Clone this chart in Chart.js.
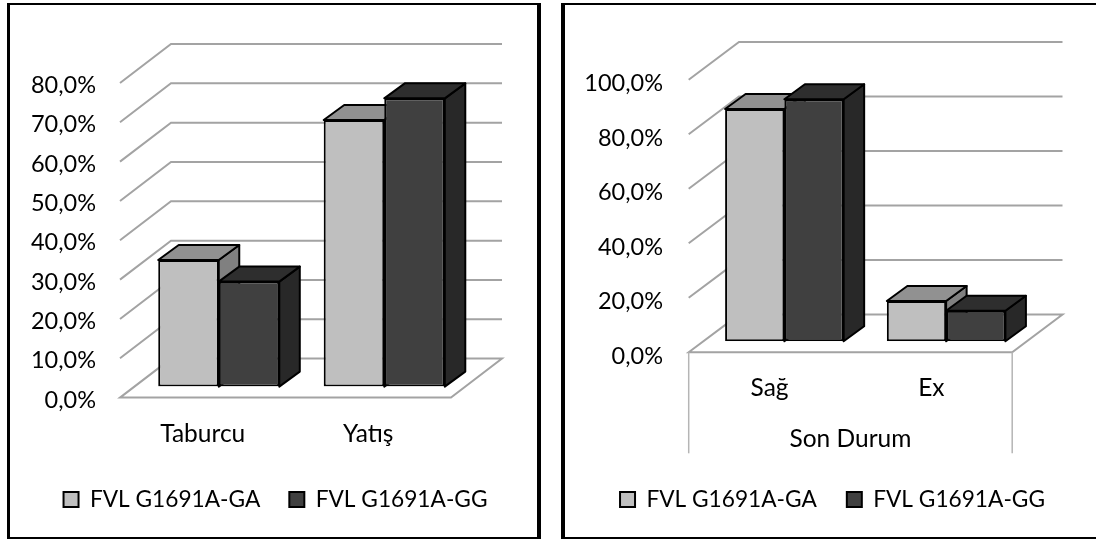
<!DOCTYPE html>
<html>
<head>
<meta charset="utf-8">
<style>
  html, body { margin: 0; padding: 0; background: #fff; overflow: hidden; }
  body { width: 1096px; height: 539px; position: relative; }
  .frame { position: absolute; box-sizing: border-box; border: solid #000; }
  #frameLeft { left: 7px; top: 3px; width: 534px; height: 537px; border-width: 2px 4px 3px 3px; }
  #frameRight { left: 561px; top: 3px; width: 535px; height: 537px; border-width: 2px 0 3px 4px; }
  canvas { position: absolute; }
  #chartLeft { left: 10px; top: 5px; }
  #chartRight { left: 565px; top: 5px; }
</style>
</head>
<body>
<div class="frame" id="frameLeft"></div>
<div class="frame" id="frameRight"></div>
<canvas id="chartLeft" width="531" height="535"></canvas>
<canvas id="chartRight" width="535" height="536"></canvas>
<script src="https://cdn.jsdelivr.net/npm/chart.js@4"></script>
<script>
const seriesNames = ['FVL G1691A-GA', 'FVL G1691A-GG'];

const leftCategories = ['Taburcu', 'Yatış'];
const leftGA = [32.2, 67.8];
const leftGG = [26.7, 73.3];

const rightCategories = ['Sağ', 'Ex'];
const rightGA = [85.2, 14.8];
const rightGG = [88.8, 11.2];
const rightAxisTitle = 'Son Durum';

const FONT_FAMILY = 'Lato, Carlito, sans-serif';
const TICK_FONT = { family: FONT_FAMILY, size: 23.5 };
const CATEGORY_FONT = { family: FONT_FAMILY, size: 24.5 };
const LEGEND_FONT = { family: FONT_FAMILY, size: 22.7 };
const GRID_COLOR = '#a3a3a3';
const BAR_DEPTH = { x: 20.5, y: 15 };

// front, top and side shade of each series
const shades = [
    { front: '#bfbfbf', top: '#919191', side: '#808080' },
    { front: '#404040', top: '#2e2e2e', side: '#282828' }
];

function formatPercent(value) {
    return value.toFixed(1).replace('.', ',') + '%';
}

// Back wall, side wall and floor lines of the fake 3D box
function drawWalls(chart, box) {
    const { ctx, chartArea } = chart;
    const yScale = chart.scales.y;
    const left = chartArea.left;
    const right = chartArea.right;

    ctx.save();
    ctx.strokeStyle = GRID_COLOR;
    ctx.lineWidth = 2;
    yScale.ticks.forEach(tick => {
        const y = yScale.getPixelForValue(tick.value);
        ctx.beginPath();
        ctx.moveTo(left - box.frontX, y + box.frontY);
        ctx.lineTo(left + box.backX, y - box.backY);
        ctx.lineTo(right + box.backX, y - box.backY);
        if (tick.value === 0) {
            ctx.lineTo(right - box.frontX, y + box.frontY);
            ctx.closePath();
        }
        ctx.stroke();
    });
    ctx.restore();
}

// Side and top faces, GA first so that GG lies over it
function drawBarFaces(chart) {
    const { ctx } = chart;
    const d = BAR_DEPTH;

    ctx.save();
    ctx.strokeStyle = '#000';
    ctx.lineWidth = 2;
    ctx.lineJoin = 'round';
    chart.data.labels.forEach((label, i) => {
        seriesNames.forEach((name, s) => {
            const bar = chart.getDatasetMeta(s).data[i];
            const x0 = bar.x - bar.width / 2;
            const x1 = bar.x + bar.width / 2;
            const top = bar.y;
            const base = bar.base;

            ctx.fillStyle = shades[s].side;
            ctx.beginPath();
            ctx.moveTo(x1, top);
            ctx.lineTo(x1 + d.x, top - d.y);
            ctx.lineTo(x1 + d.x, base - d.y);
            ctx.lineTo(x1, base);
            ctx.closePath();
            ctx.fill();
            ctx.stroke();

            ctx.fillStyle = shades[s].top;
            ctx.beginPath();
            ctx.moveTo(x0, top);
            ctx.lineTo(x0 + d.x, top - d.y);
            ctx.lineTo(x1 + d.x, top - d.y);
            ctx.lineTo(x1, top);
            ctx.closePath();
            ctx.fill();
            ctx.stroke();
        });
    });
    ctx.restore();
}

const box3d = {
    id: 'box3d',
    beforeDatasetsDraw(chart, args, opts) {
        drawWalls(chart, opts);
        drawBarFaces(chart);
    },
    afterDraw(chart, args, opts) {
        if (!opts.axisTitle) return;
        const { ctx, chartArea } = chart;
        const y0 = chart.scales.y.getPixelForValue(0) + opts.frontY;
        const xa = chartArea.left - opts.frontX;
        const xb = chartArea.right - opts.frontX;

        // Front panel of the two level category axis
        ctx.save();
        ctx.strokeStyle = '#b5b5b5';
        ctx.lineWidth = 1.5;
        [xa, xb].forEach(x => {
            ctx.beginPath();
            ctx.moveTo(x, y0);
            ctx.lineTo(x, y0 + opts.panelHeight);
            ctx.stroke();
        });
        ctx.fillStyle = '#000';
        ctx.font = CATEGORY_FONT.size + 'px ' + CATEGORY_FONT.family;
        ctx.textAlign = 'center';
        ctx.textBaseline = 'middle';
        ctx.fillText(opts.axisTitle, (xa + xb) / 2, y0 + opts.titleOffset);
        ctx.restore();
    }
};

function makeChart(id, categories, ga, gg, cfg) {
    const ctx = document.getElementById(id).getContext('2d');
    return new Chart(ctx, {
        type: 'bar',
        plugins: [box3d],
        data: {
            labels: categories,
            datasets: [
                { label: seriesNames[0], data: ga, backgroundColor: shades[0].front },
                { label: seriesNames[1], data: gg, backgroundColor: shades[1].front }
            ]
        },
        options: {
            responsive: false,
            animation: false,
            maintainAspectRatio: false,
            layout: { padding: { left: 0, top: cfg.padTop, right: 0, bottom: cfg.padBottom } },
            datasets: {
                bar: {
                    borderColor: '#000',
                    borderWidth: 2,
                    borderSkipped: false,
                    categoryPercentage: cfg.groupShare,
                    barPercentage: 1
                }
            },
            plugins: {
                tooltip: { enabled: false },
                legend: {
                    position: 'bottom',
                    labels: {
                        boxWidth: 15,
                        boxHeight: 15,
                        padding: cfg.legendGap,
                        color: '#000',
                        font: LEGEND_FONT
                    }
                },
                box3d: cfg.box
            },
            scales: {
                x: {
                    grid: { display: false, drawTicks: false },
                    border: { display: false },
                    ticks: {
                        color: '#000',
                        font: CATEGORY_FONT,
                        padding: cfg.xPad,
                        labelOffset: -cfg.box.frontX,
                        maxRotation: 0
                    },
                    afterFit: s => { s.height = cfg.xHeight; }
                },
                y: {
                    min: 0,
                    max: cfg.yMax,
                    grid: { display: false, drawTicks: false },
                    border: { display: false },
                    ticks: {
                        stepSize: cfg.yStep,
                        color: '#000',
                        font: TICK_FONT,
                        padding: cfg.yPad,
                        labelOffset: cfg.yLabelOffset,
                        callback: formatPercent
                    },
                    afterFit: s => { s.width = cfg.yWidth; }
                },
                // empty axis, only holds the gap right of the plot
                spacer: {
                    position: 'right',
                    grid: { display: false },
                    border: { display: false },
                    ticks: { display: false },
                    afterFit: s => { s.width = cfg.rightGap; }
                }
            }
        }
    });
}

makeChart('chartLeft', leftCategories, leftGA, leftGG, {
    padTop: 67, padBottom: 19.2, groupShare: 0.7315, legendGap: 29,
    xHeight: 72.5, xPad: 33, yMax: 80, yStep: 10, yPad: 40, yLabelOffset: 13.5,
    yWidth: 126, rightGap: 74,
    box: { frontX: 16, frontY: 11, backX: 35, backY: 28 }
});

makeChart('chartRight', rightCategories, rightGA, rightGG, {
    padTop: 63.7, padBottom: 20.2, groupShare: 0.733, legendGap: 30,
    xHeight: 116.8, xPad: 32, yMax: 100, yStep: 20, yPad: 40.5, yLabelOffset: 15,
    yWidth: 138.5, rightGap: 73,
    box: {
        frontX: 14.8, frontY: 11, backX: 35.5, backY: 26.7,
        axisTitle: rightAxisTitle, panelHeight: 101, titleOffset: 86.5
    }
});
</script>
</body>
</html>
